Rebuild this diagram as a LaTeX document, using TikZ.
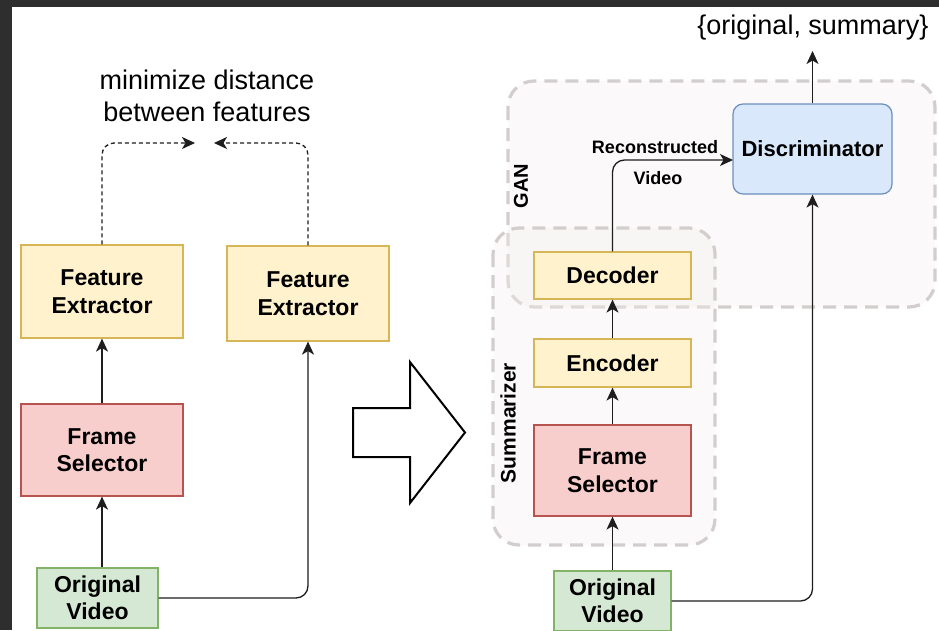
\documentclass[tikz,border=0pt]{standalone}
\usepackage{fontspec}
\setmainfont{Liberation Sans}
\usetikzlibrary{arrows.meta,calc}

\definecolor{frame}{HTML}{2E2E2E}
\definecolor{ylwfill}{HTML}{FFF2CC}
\definecolor{ylwdraw}{HTML}{D6B656}
\definecolor{redfill}{HTML}{F8CECC}
\definecolor{reddraw}{HTML}{B85450}
\definecolor{grnfill}{HTML}{D5E8D4}
\definecolor{grndraw}{HTML}{82B366}
\definecolor{blufill}{HTML}{DAE8FC}
\definecolor{bludraw}{HTML}{6C8EBF}
\definecolor{grpdraw}{HTML}{D3CECE}
\definecolor{grpfill}{HTML}{F4F0EE}
\definecolor{wire}{HTML}{1E1E1E}

\tikzset{
  blk/.style={draw, line width=1.2pt, align=center, inner sep=0pt,
    font=\fontsize{23}{27.5}\selectfont\bfseries, text=black},
  ylw/.style={blk, fill=ylwfill, draw=ylwdraw},
  red/.style={blk, fill=redfill, draw=reddraw},
  grn/.style={blk, fill=grnfill, draw=grndraw},
  blu/.style={blk, fill=blufill, draw=bludraw, rounded corners=10pt,
    font=\fontsize{22}{26}\selectfont\bfseries},
  grp/.style={draw=grpdraw, line width=3.2pt, dash pattern=on 13pt off 8pt,
    rounded corners=26pt, fill=grpfill, fill opacity=0.35},
  flow/.style={draw=wire, line width=1.3pt, rounded corners=12pt,
    -{Stealth[length=13pt,width=12pt,inset=3.5pt]}},
  dflow/.style={flow, dashed, dash pattern=on 4pt off 3pt},
  note/.style={font=\fontsize{27}{32}\selectfont, align=center, inner sep=0pt},
  grplabel/.style={font=\fontsize{20}{24}\selectfont\bfseries, rotate=90, inner sep=0pt},
  edgelabel/.style={font=\fontsize{18}{20}\selectfont\bfseries, inner sep=0pt}
}

\begin{document}
\begin{tikzpicture}[x=1pt,y=-1pt]
  % page and dark slide frame
  \useasboundingbox (0,0) rectangle (939,630);
  \fill[white] (0,0) rectangle (939,630);
  \fill[frame] (0,0) rectangle (939,7);
  \fill[frame] (0,0) rectangle (12,630);

  % ---------------- left: feature-matching setup ----------------
  \node[ylw, minimum width=162pt, minimum height=93pt] (fe1) at (102,291.5) {Feature\\Extractor};
  \node[ylw, minimum width=162pt, minimum height=95pt] (fe2) at (308,293.5) {Feature\\Extractor};
  \node[red, minimum width=162pt, minimum height=92pt] (fs1) at (102,450) {Frame\\Selector};
  \node[grn, minimum width=121pt, minimum height=60pt] (ov1) at (97.5,598) {Original\\Video};

  \node[note] (goal) at (207,96) {minimize distance\\between features};
  \coordinate (tipl) at (195,143);
  \coordinate (tipr) at (214,143);

  \draw[flow] (ov1.north -| fs1.south) -- (fs1.south);
  \draw[flow] (fs1) -- (fe1);
  \draw[flow] (ov1.east) -| (fe2.south);
  \draw[dflow] (fe1.north) |- (tipl);
  \draw[dflow] (fe2.north) |- (tipr);

  % hollow block arrow between the two setups
  \draw[line width=2pt, fill=white, line join=miter]
    (353,408) -- (410,408) -- (410,362) -- (465,432.5) -- (410,503)
    -- (410,457) -- (353,457) -- cycle;

  % ---------------- right: GAN setup ----------------
  \path[grp] (508,81) rectangle (935,307);
  \path[grp] (493,228) rectangle (715,545);
  \node[grplabel] (ganlbl) at (521,186) {GAN};
  \node[grplabel, font=\fontsize{21}{24}\selectfont\bfseries] (sumlbl) at (508,423) {Summarizer};

  \node[ylw, minimum width=157pt, minimum height=47pt] (dec) at (612.5,275.5) {Decoder};
  \node[ylw, minimum width=157pt, minimum height=48pt] (enc) at (612.5,363) {Encoder};
  \node[red, minimum width=157pt, minimum height=91pt] (fs2) at (612.5,470.5) {Frame\\Selector};
  \node[grn, minimum width=117pt, minimum height=60pt] (ov2) at (612.5,601) {Original\\Video};
  \node[blu, minimum width=159pt, minimum height=90pt] (disc) at (812.5,149) {Discriminator};

  \node[note] (out) at (813,28) {\{original, summary\}};
  \coordinate (outtip) at (812.5,51);
  \coordinate (rvin) at (733,160);

  \draw[flow] (ov2) -- (fs2);
  \draw[flow] (fs2) -- (enc);
  \draw[flow] (enc) -- (dec);
  \draw[flow] (dec.north) |- (rvin);
  \draw[flow] (ov2.east) -| (disc.south);
  \draw[flow] (disc.north) -- (outtip);

  \node[edgelabel] (rvtop) at (655,147) {Reconstructed};
  \node[edgelabel] (rvbot) at (658,178) {Video};
\end{tikzpicture}
\end{document}
